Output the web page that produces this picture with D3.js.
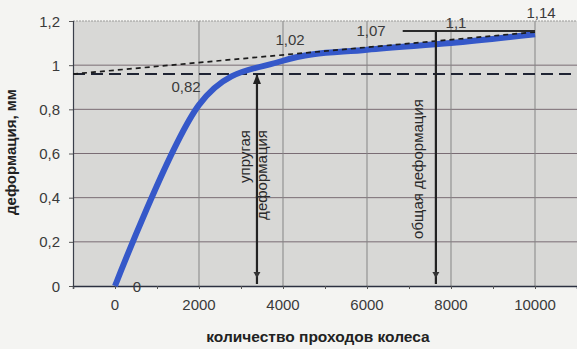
<!DOCTYPE html>
<html><head><meta charset="utf-8">
<script src="https://cdn.jsdelivr.net/npm/d3@7"></script>
<style>
html,body{margin:0;padding:0;background:#f4f4f2;}
svg{display:block;font-family:"Liberation Sans",Arial,sans-serif;}
</style></head>
<body><svg id="c" width="577" height="349"></svg>
<script>
// ---- data ----
const passes = [0, 2000, 4000, 6000, 8000, 10000];
const deformation = [0, 0.82, 1.02, 1.07, 1.1, 1.14];
const pointLabels = ["0", "0,82", "1,02", "1,07", "1,1", "1,14"];
const xTicks = [0, 2000, 4000, 6000, 8000, 10000];
const xMinorTicks = [-1000, 1000, 3000, 5000, 7000, 9000];
const yTicks = [0, 0.2, 0.4, 0.6, 0.8, 1, 1.2];
const yTickLabels = ["0", "0,2", "0,4", "0,6", "0,8", "1", "1,2"];
const tangentX = [-1000, 10000];
const tangentY = [0.96, 1.15];
const elasticLevel = 0.96;
const elasticArrowX = 3380;
const totalArrowX = 7640;
const totalLevel = 1.155;
const totalLineX = [6850, 10000];
const elasticText = ["упругая", "деформация"];
const totalText = "общая деформация";
const xTitle = "количество проходов колеса";
const yTitle = "деформация, мм";

// ---- drawing ----
const svg = d3.select("#c");
const x = d3.scaleLinear().domain([-1000, 11000]).range([73, 577]);
const y = d3.scaleLinear().domain([0, 1.2]).range([286, 21]);

// plot area
svg.append("rect").attr("x", x(-1000)).attr("y", y(1.2))
  .attr("width", x(11000) - x(-1000)).attr("height", y(0) - y(1.2))
  .attr("fill", "#d8d8d6");
svg.append("line").attr("x1", x(-1000)).attr("x2", x(11000))
  .attr("y1", y(1.2)).attr("y2", y(1.2))
  .attr("stroke", "#9a9a98").attr("stroke-width", 1).attr("stroke-dasharray", "2,1");

// horizontal grid
svg.append("g").selectAll("line").data(yTicks.filter(d => d > 0 && d < 1.2)).join("line")
  .attr("x1", x(-1000)).attr("x2", x(11000))
  .attr("y1", d => y(d)).attr("y2", d => y(d))
  .attr("stroke", "#7a6c74").attr("stroke-width", 1);
// vertical grid
svg.append("g").selectAll("line").data(xTicks.filter(d => d > 0)).join("line")
  .attr("x1", d => x(d)).attr("x2", d => x(d))
  .attr("y1", y(1.2)).attr("y2", y(0))
  .attr("stroke", "#858585").attr("stroke-width", 1);

// axes
const xAxis = d3.axisBottom(x).tickValues(xTicks.concat(xMinorTicks)).tickSize(3).tickFormat("");
const gx = svg.append("g").attr("transform", `translate(0,${y(0)})`).call(xAxis);
gx.select(".domain").attr("stroke", "#2b3040").attr("stroke-width", 1.5);
gx.selectAll(".tick line").attr("stroke", "#555");
svg.append("g").selectAll("text").data(xTicks).join("text")
  .attr("x", d => x(d)).attr("y", 310)
  .attr("text-anchor", "middle").attr("font-size", 15).attr("fill", "#3a3a3a")
  .text(d => d);

const yAxis = d3.axisLeft(y).tickValues(yTicks).tickSize(4).tickFormat("");
const gy = svg.append("g").attr("transform", `translate(${x(-1000)},0)`).call(yAxis);
gy.select(".domain").attr("stroke", "#3a3f4a").attr("stroke-width", 1.2);
gy.selectAll(".tick line").attr("stroke", "#555");
svg.append("g").selectAll("text").data(yTicks).join("text")
  .attr("x", 60).attr("y", d => y(d) + 5.5)
  .attr("text-anchor", "end").attr("font-size", 15).attr("fill", "#3a3a3a")
  .text((d, i) => yTickLabels[i]);

// long-dashed elastic level line
svg.append("line").attr("x1", x(-1000)).attr("x2", x(11000))
  .attr("y1", y(elasticLevel)).attr("y2", y(elasticLevel))
  .attr("stroke", "#1f2433").attr("stroke-width", 2).attr("stroke-dasharray", "12,6");

// main curve
const pts = passes.map((p, i) => [p, deformation[i]]);
const line = d3.line().x(d => x(d[0])).y(d => y(d[1])).curve(d3.curveCardinal.tension(0));
svg.append("path").attr("d", line(pts)).attr("fill", "none")
  .attr("stroke", "#3558c9").attr("stroke-width", 6).attr("stroke-linecap", "butt");

// tangent short-dashed line
svg.append("line").attr("x1", x(tangentX[0])).attr("x2", x(tangentX[1]))
  .attr("y1", y(tangentY[0])).attr("y2", y(tangentY[1]))
  .attr("stroke", "#1c1c1c").attr("stroke-width", 1.7).attr("stroke-dasharray", "5,4");

// total level horizontal line
svg.append("line").attr("x1", x(totalLineX[0])).attr("x2", x(totalLineX[1]))
  .attr("y1", y(totalLevel)).attr("y2", y(totalLevel))
  .attr("stroke", "#2a2a2a").attr("stroke-width", 2);

// arrows
function arrow(xv, topV, topHead) {
  const xp = x(xv);
  svg.append("line").attr("x1", xp).attr("x2", xp)
    .attr("y1", y(topV)).attr("y2", y(0) - 2)
    .attr("stroke", "#222").attr("stroke-width", 2.2);
  if (topHead) {
    const t = y(topV);
    svg.append("path").attr("d", `M${xp},${t} L${xp - 4},${t + 10} L${xp + 4},${t + 10} Z`).attr("fill", "#222");
  }
  const b = y(0) - 10;
  svg.append("path").attr("d", `M${xp - 3.5},${b - 4} L${xp + 3.5},${b - 4} L${xp},${b + 2} Z`).attr("fill", "#333");
}
arrow(elasticArrowX, elasticLevel, true);
arrow(totalArrowX, totalLevel, false);

// rotated annotations
const ex = x(elasticArrowX);
elasticText.forEach((t, i) => {
  svg.append("text").attr("transform", `translate(${ex - 7 + i * 17},130) rotate(-90)`)
    .attr("text-anchor", "end").attr("font-size", 15).attr("fill", "#2a2a2a").text(t);
});
svg.append("text").attr("transform", `translate(${x(totalArrowX) - 13},169) rotate(-90)`)
  .attr("text-anchor", "middle").attr("font-size", 15).attr("fill", "#2a2a2a").text(totalText);

// point labels
const offs = [[22, 6], [-13, -13], [7, -16], [4, -14], [5, -15], [6, -16]];
svg.append("g").selectAll("text").data(pts).join("text")
  .attr("x", (d, i) => x(d[0]) + offs[i][0])
  .attr("y", (d, i) => y(d[1]) + offs[i][1])
  .attr("text-anchor", "middle").attr("font-size", 15).attr("fill", "#3a3a3a")
  .text((d, i) => pointLabels[i]);

// titles
svg.append("text").attr("x", 318).attr("y", 342).attr("text-anchor", "middle")
  .attr("font-size", 15.5).attr("font-weight", "bold").attr("fill", "#222").text(xTitle);
svg.append("text").attr("transform", "translate(16,152) rotate(-90)").attr("text-anchor", "middle")
  .attr("font-size", 15).attr("font-weight", "bold").attr("fill", "#222").text(yTitle);
</script></body></html>
